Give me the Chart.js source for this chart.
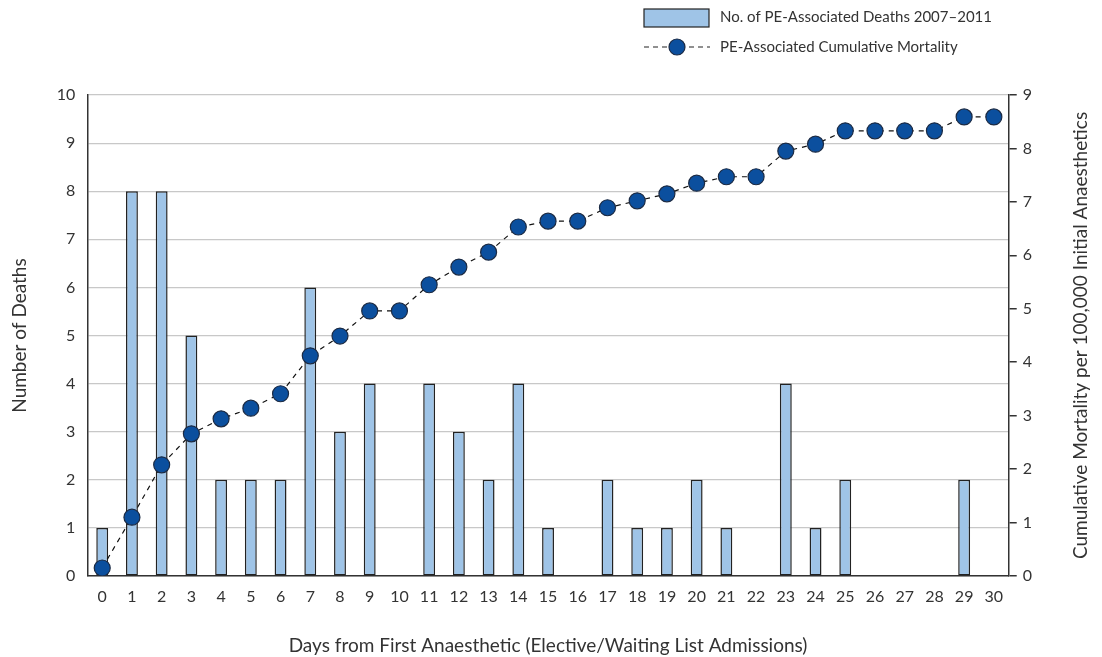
<!DOCTYPE html>
<html>
<head>
<meta charset="utf-8">
<script src="https://cdn.jsdelivr.net/npm/chart.js@4.4.1/dist/chart.umd.min.js"></script>
<style>
  html, body { margin: 0; padding: 0; background: #fff; }
  #wrap { width: 1102px; height: 657px; position: relative; }
</style>
</head>
<body>
<div id="wrap"><canvas id="chart"></canvas></div>
<script>
var days = ["0","1","2","3","4","5","6","7","8","9","10","11","12","13","14","15",
            "16","17","18","19","20","21","22","23","24","25","26","27","28","29","30"];
var deaths = [1, 8, 8, 5, 2, 2, 2, 6, 3, 4, 0, 4, 3, 2, 4, 1,
              0, 2, 1, 1, 2, 1, 0, 4, 1, 2, 0, 0, 0, 2, 0];
var cumulative = [0.15, 1.10, 2.08, 2.66, 2.94, 3.14, 3.41, 4.12, 4.49, 4.96, 4.96, 5.45, 5.78, 6.06, 6.53, 6.64,
                  6.64, 6.89, 7.02, 7.15, 7.35, 7.47, 7.47, 7.95, 8.08, 8.33, 8.33, 8.33, 8.33, 8.59, 8.59];
var barLabel = "No. of PE-Associated Deaths 2007\u20132011";
var lineLabel = "PE-Associated Cumulative Mortality";
var rightTitle = "Cumulative Mortality per 100,000 Initial Anaesthetics";

var fontFamily = "Lato, 'DejaVu Sans', sans-serif";
var textColor = "#333";
var barFill = "#9fc4e7";
var dotFill = "#0b4f9e";
var edge = "#222";

// legend drawn by hand, top right
const customLegend = {
    id: 'customLegend',
    afterDraw(chart) {
        const ctx = chart.ctx;
        ctx.save();
        // bar entry
        ctx.fillStyle = barFill;
        ctx.strokeStyle = edge;
        ctx.lineWidth = 1.2;
        ctx.fillRect(644, 9, 65, 18);
        ctx.strokeRect(644, 9, 65, 18);
        // line entry
        ctx.setLineDash([5, 4]);
        ctx.lineWidth = 1.2;
        ctx.beginPath();
        ctx.moveTo(644, 47);
        ctx.lineTo(710, 47);
        ctx.stroke();
        ctx.setLineDash([]);
        ctx.fillStyle = dotFill;
        ctx.strokeStyle = "#1c2b44";
        ctx.beginPath();
        ctx.arc(677, 47, 8, 0, Math.PI * 2);
        ctx.fill();
        ctx.stroke();
        // texts
        ctx.fillStyle = textColor;
        ctx.font = "15px " + fontFamily;
        ctx.textBaseline = "middle";
        ctx.fillText(barLabel, 720, 17);
        ctx.fillText(lineLabel, 720, 47);
        ctx.restore();
    }
};

// right axis title reads bottom-to-top in the original
const rightAxisTitle = {
    id: 'rightAxisTitle',
    afterDraw(chart) {
        const ctx = chart.ctx;
        const area = chart.chartArea;
        ctx.save();
        ctx.translate(1081, (area.top + area.bottom) / 2);
        ctx.rotate(-Math.PI / 2);
        ctx.fillStyle = textColor;
        ctx.font = "19px " + fontFamily;
        ctx.textAlign = "center";
        ctx.textBaseline = "middle";
        ctx.fillText(rightTitle, 0, 0);
        ctx.restore();
    }
};

const config = {
    type: 'bar',
    data: {
        labels: days,
        datasets: [{
            type: 'line',
            label: lineLabel,
            data: cumulative,
            yAxisID: 'y2',
            borderColor: '#111',
            borderWidth: 1.2,
            borderDash: [5, 5],
            pointRadius: 8,
            pointBackgroundColor: dotFill,
            pointBorderColor: '#1c2b44',
            pointBorderWidth: 1.2,
            tension: 0,
            order: 0
        }, {
            type: 'bar',
            label: barLabel,
            data: deaths,
            yAxisID: 'y',
            backgroundColor: barFill,
            borderColor: edge,
            borderWidth: 1.5,
            borderSkipped: false,
            barPercentage: 0.4,
            categoryPercentage: 1.0,
            order: 1
        }]
    },
    options: {
        responsive: false,
        animation: false,
        layout: { padding: { top: 95, right: 64, left: 8, bottom: 0 } },
        plugins: {
            legend: { display: false },
            tooltip: { enabled: false }
        },
        scales: {
            x: {
                grid: { display: false, drawTicks: false },
                border: { color: '#333', width: 1.5 },
                ticks: { color: textColor, font: { family: fontFamily, size: 16 }, padding: 11, maxRotation: 0, autoSkip: false },
                title: {
                    display: true,
                    text: 'Days from First Anaesthetic (Elective/Waiting List Admissions)',
                    color: textColor,
                    font: { family: fontFamily, size: 19 },
                    padding: { top: 17, bottom: 0 }
                }
            },
            y: {
                position: 'left',
                min: 0,
                max: 10,
                grid: { color: '#c8c8c8', lineWidth: 1.2, drawTicks: false },
                border: { color: '#333', width: 1.5 },
                ticks: { stepSize: 1, color: textColor, font: { family: fontFamily, size: 16 }, padding: 12 },
                title: {
                    display: true,
                    text: 'Number of Deaths',
                    color: textColor,
                    font: { family: fontFamily, size: 19 },
                    padding: { top: 0, bottom: 14 }
                }
            },
            y2: {
                position: 'right',
                min: 0,
                max: 9,
                grid: { drawOnChartArea: false, color: '#333', tickLength: 8, lineWidth: 1.5 },
                border: { color: '#333', width: 1.5 },
                ticks: { stepSize: 1, color: textColor, font: { family: fontFamily, size: 16 }, padding: 6 }
            }
        }
    },
    plugins: [customLegend, rightAxisTitle]
};

const canvas = document.getElementById('chart');
canvas.width = 1102;
canvas.height = 657;
new Chart(canvas, config);
</script>
</body>
</html>
